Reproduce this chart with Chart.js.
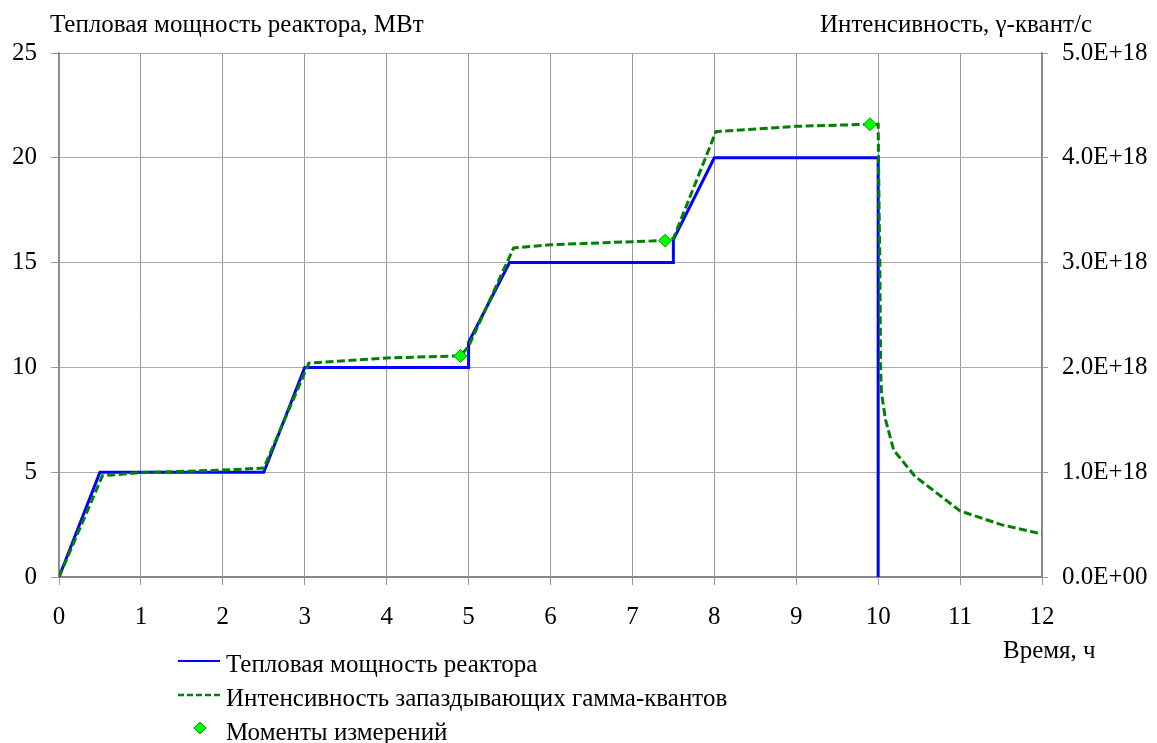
<!DOCTYPE html>
<html>
<head>
<meta charset="utf-8">
<script src="https://cdn.jsdelivr.net/npm/chart.js@4"></script>
<style>
  html, body { margin: 0; padding: 0; background: #fff; }
  #wrap { position: relative; width: 1157px; height: 743px; overflow: hidden; font-family: "Liberation Serif", "Times New Roman", serif; color: #000; }
  #c { position: absolute; left: 0; top: 0; }
  .t { position: absolute; font-size: 25px; white-space: nowrap; line-height: 1; }
  .leg { position: absolute; left: 178px; font-size: 25px; white-space: nowrap; line-height: 1; }
  .leg .s { position: absolute; left: 0; top: 0; width: 44px; height: 24px; }
  .leg .lbl { position: absolute; left: 48px; top: 0; }
</style>
</head>
<body>
<div id="wrap">
  <canvas id="c" width="1157" height="743"></canvas>
  <div class="t" id="tl" style="left:50px; top:11px;">Тепловая мощность реактора, МВт</div>
  <div class="t" id="tr" style="left:820px; top:11px;">Интенсивность, γ-квант/с</div>
  <div class="t" id="tx" style="left:1003px; top:637px;">Время, ч</div>
  <div class="leg" style="top:651px;">
    <svg class="s" width="44" height="24"><line x1="0" y1="10" x2="42" y2="10" stroke="#0000ff" stroke-width="2"/></svg>
    <span class="lbl">Тепловая мощность реактора</span>
  </div>
  <div class="leg" style="top:685px;">
    <svg class="s" width="44" height="24"><line x1="0" y1="10" x2="42" y2="10" stroke="#008000" stroke-width="2.5" stroke-dasharray="6,3"/></svg>
    <span class="lbl">Интенсивность запаздывающих гамма-квантов</span>
  </div>
  <div class="leg" style="top:719px;">
    <svg class="s" width="44" height="24"><polygon points="22,3 28,9 22,15 16,9" fill="#00ff00" stroke="#00a000" stroke-width="1"/></svg>
    <span class="lbl">Моменты измерений</span>
  </div>
</div>
<script>
// ---- Data ----
const powerTime = [0, 0.5, 2.5, 3, 5, 5, 5.5, 7.5, 7.5, 8, 10, 10];
const powerMW   = [0, 5, 5, 10, 10, 11.2, 15, 15, 16.1, 20, 20, 0];

const gammaTime = [0, 0.53, 1, 2, 2.5, 3.05, 4, 4.9, 5, 5.55, 6, 7, 7.4, 7.5, 8.02, 9, 9.9, 10,
                   10.01, 10.02, 10.03, 10.04, 10.09, 10.19, 10.45, 11, 11.5, 12];
const gammaRate = [0, 0.966e18, 0.996e18, 1.02e18, 1.04e18, 2.04e18, 2.09e18, 2.11e18, 2.2e18,
                   3.14e18, 3.17e18, 3.2e18, 3.21e18, 3.23e18, 4.25e18, 4.3e18, 4.32e18, 4.32e18,
                   3.6e18, 3.02e18, 2.0e18, 1.76e18, 1.5e18, 1.21e18, 0.96e18, 0.63e18, 0.5e18, 0.41e18];

const measTime = [4.9, 7.4, 9.9];
const measRate = [2.11e18, 3.21e18, 4.32e18];

const xTicks = [0,1,2,3,4,5,6,7,8,9,10,11,12];
const leftTicks = [0, 5, 10, 15, 20, 25];
const rightTicks = [0, 1e18, 2e18, 3e18, 4e18, 5e18];

function expLabel(v) {
  const s = Number(v).toExponential(1);
  const m = s.split('e');
  let e = parseInt(m[1], 10);
  const sign = e < 0 ? '-' : '+';
  e = Math.abs(e);
  return m[0] + 'E' + sign + (e < 10 ? '0' + e : '' + e);
}

const zip = (xs, ys) => xs.map((x, i) => ({x: x, y: ys[i]}));
const FONT = { family: '"Liberation Serif", "Times New Roman", serif', size: 25 };

new Chart(document.getElementById('c'), {
  type: 'line',
  data: {
    datasets: [
      {
        label: 'Моменты измерений',
        data: zip(measTime, measRate),
        yAxisID: 'y1',
        showLine: false,
        pointStyle: 'rectRot',
        pointRadius: 6.5,
        pointBackgroundColor: '#00ff00',
        pointBorderColor: '#00a000',
        pointBorderWidth: 1,
        order: 0
      },
      {
        label: 'Интенсивность запаздывающих гамма-квантов',
        data: zip(gammaTime, gammaRate),
        yAxisID: 'y1',
        borderColor: '#008000',
        borderWidth: 3,
        borderDash: [8, 3.5],
        pointRadius: 0,
        tension: 0,
        fill: false,
        order: 1
      },
      {
        label: 'Тепловая мощность реактора',
        data: zip(powerTime, powerMW),
        yAxisID: 'y',
        borderColor: '#0000ff',
        borderWidth: 3,
        pointRadius: 0,
        tension: 0,
        fill: false,
        order: 2
      }
    ]
  },
  options: {
    responsive: false,
    animation: false,
    layout: { padding: { left: 0, right: 0, top: 53, bottom: 116 } },
    plugins: { legend: { display: false }, tooltip: { enabled: false } },
    scales: {
      x: {
        type: 'linear', min: 0, max: 12,
        afterBuildTicks: (ax) => { ax.ticks = xTicks.map(v => ({value: v})); },
        afterFit: (ax) => { ax.height = 50; },
        ticks: { font: FONT, color: '#000', padding: 17, maxRotation: 0, autoSkip: false },
        grid: { color: '#999', lineWidth: 1, tickLength: 8, tickColor: '#999' },
        border: { color: '#888', width: 2 }
      },
      y: {
        type: 'linear', position: 'left', min: 0, max: 25,
        afterBuildTicks: (ax) => { ax.ticks = leftTicks.map(v => ({value: v})); },
        afterFit: (ax) => { ax.width = 59; },
        ticks: { font: FONT, color: '#000', padding: 14 },
        grid: { color: '#aaa', lineWidth: 1, tickLength: 8, tickColor: '#999' },
        border: { color: '#888', width: 1.5 }
      },
      y1: {
        type: 'linear', position: 'right', min: 0, max: 5e18,
        afterBuildTicks: (ax) => { ax.ticks = rightTicks.map(v => ({value: v})); },
        afterFit: (ax) => { ax.width = 115; },
        ticks: { font: FONT, color: '#000', padding: 14, callback: (v) => expLabel(v) },
        grid: { drawOnChartArea: false, tickLength: 6, tickColor: '#999' },
        border: { color: '#888', width: 1.5 }
      }
    }
  }
});
</script>
</body>
</html>
